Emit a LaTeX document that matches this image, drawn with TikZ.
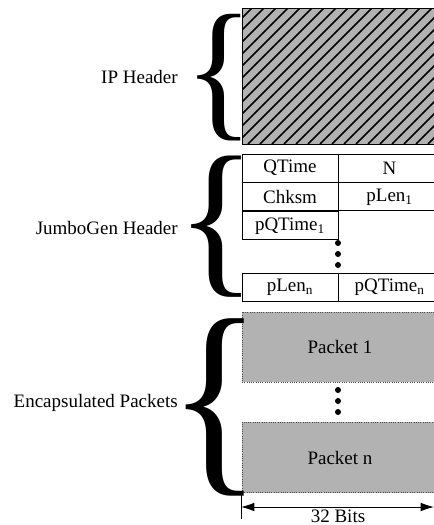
\documentclass[tikz,border=0pt]{standalone}
\usepackage{fontspec}
\setmainfont{Liberation Serif}
\usepackage{graphicx}
\usetikzlibrary{positioning,arrows.meta}
\newcommand{\bigbrace}[2]{\resizebox*{#1}{#2}{\{}}

\begin{document}
\begin{tikzpicture}[x=0.75pt,y=0.75pt]
\tikzstyle{every node}+=[inner sep=0pt, font=\fontsize{14.25}{17}\selectfont]
\tikzstyle{cell}=[draw=black, line width=0.7pt, minimum width=72pt, minimum height=21pt]
\tikzstyle{wcell}=[cell, minimum width=76pt]
\tikzstyle{pkt}=[draw=black!70, densely dotted, line width=0.7pt, fill=black!30, minimum width=147pt]
\tikzstyle{dot}=[circle, fill=black, minimum size=4.5pt]
\tikzstyle{lbl}=[anchor=base east]
\useasboundingbox (0,0) rectangle (434,-525);
\clip (0,0) rectangle (434,-525);
% IP header, hatched
\node[draw=black, line width=0.7pt, fill=black!30, minimum width=147pt, minimum height=102pt,
  path picture={
    \foreach \i in {-150,-138,...,210}
      \draw[line width=1.1pt] ([xshift=\i*0.75pt]path picture bounding box.south west) -- ++(160,160);
  }] (iphdr) at (340,-76) {};
% JumboGen header fields
\node[cell] (qtime) at (290,-168) {QTime};
\node[wcell, right=0pt of qtime] (nfld) {N};
\node[cell, below=0pt of qtime] (chksm) {Chksm};
\node[wcell, right=0pt of chksm] (plenone) {pLen\textsubscript{1}};
\node[cell, below=0pt of chksm] (pqone) {pQTime\textsubscript{1}};
\node[dot] (jd1) at (338,-243) {};
\node[dot] (jd2) at (338,-254) {};
\node[dot] (jd3) at (338,-265) {};
\node[cell] (plenn) at (290,-287) {pLen\textsubscript{n}};
\node[wcell, right=0pt of plenn] (pqn) {pQTime\textsubscript{n}};
% encapsulated packets
\node[pkt, minimum height=52.5pt] (pktone) at (340,-347) {Packet 1};
\node[dot] (pd1) at (338,-390) {};
\node[dot] (pd2) at (338,-401) {};
\node[dot] (pd3) at (338,-412) {};
\node[pkt, minimum height=53pt] (pktn) at (340,-457.5) {Packet n};
% braces and labels
\node (ipbrace) at (219,-78) {\bigbrace{52pt}{95pt}};
\node (jgbrace) at (216.5,-226.5) {\bigbrace{60pt}{106pt}};
\node (epbrace) at (215,-407) {\bigbrace{70pt}{133pt}};
\node[lbl] (iplbl) at (178,-83) {IP Header};
\node[lbl] (jglbl) at (178,-234) {JumboGen Header};
\node[lbl] (eplbl) at (178,-407) {Encapsulated Packets};
% width arrow
\coordinate (tickt) at (241,-495);
\coordinate (tickb) at (241,-519);
\coordinate (arrl) at (241,-507);
\coordinate (arrr) at (434,-507);
\draw[line width=0.7pt] (tickt) -- (tickb);
\draw[line width=0.7pt, {Latex[length=10pt,width=6.5pt]}-{Latex[length=10pt,width=6.5pt]}] (arrl) -- (arrr);
\node (bits) at (338,-516) {32 Bits};
\end{tikzpicture}
\end{document}
